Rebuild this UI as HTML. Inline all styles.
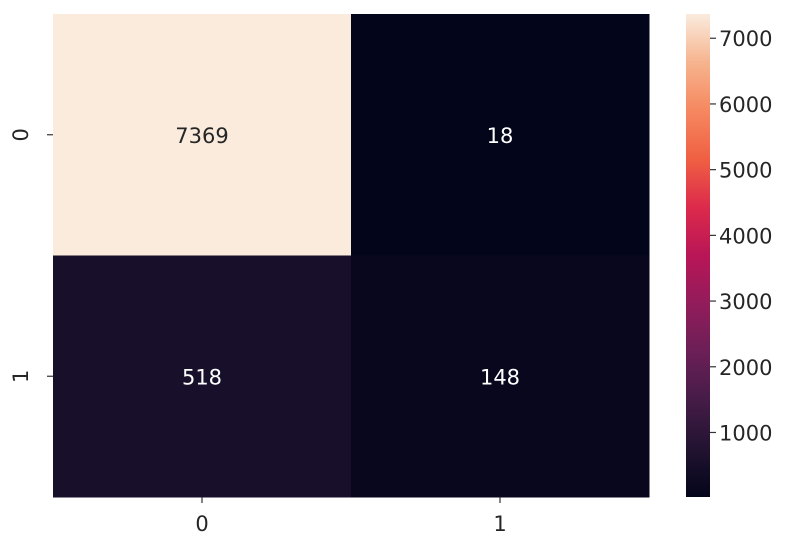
<!DOCTYPE html>
<html><head><meta charset="utf-8"><style>
body{margin:0;background:#fff;}
svg text{font-family:"DejaVu Sans","Liberation Sans",sans-serif;}
</style></head><body>
<svg id="chart" width="796" height="552" xmlns="http://www.w3.org/2000/svg">
<defs><linearGradient id="rocket" x1="0" y1="1" x2="0" y2="0"></linearGradient></defs>
<g id="cells"></g><g id="axes"></g><g id="cbar"></g>
</svg>
<script>
const rowLabels = ["0","1"];
const colLabels = ["0","1"];
const values = [[7369,18],[518,148]];
const cbarTicks = [1000,2000,3000,4000,5000,6000,7000];

const stops=[[0,"#03051a"],[0.1,"#221331"],[0.2,"#451c47"],[0.3,"#6b1f56"],[0.4,"#921c5b"],[0.5,"#b91657"],[0.6,"#dc2a4b"],[0.7,"#f06043"],[0.8,"#f58860"],[0.9,"#f6b48e"],[1,"#faebdd"]];
const NS="http://www.w3.org/2000/svg";
function hx(c){return [1,3,5].map(i=>parseInt(c.substr(i,2),16));}
function cmap(t){t=Math.max(0,Math.min(1,t));for(let i=1;i<stops.length;i++){if(t<=stops[i][0]){const a=stops[i-1],b=stops[i];const f=(t-a[0])/(b[0]-a[0]);const ca=hx(a[1]),cb=hx(b[1]);return "rgb("+ca.map((v,k)=>Math.round(v+(cb[k]-v)*f)).join(",")+")";}}return stops[stops.length-1][1];}
function mk(tag,attrs,parent){const e=document.createElementNS(NS,tag);for(const k in attrs)e.setAttribute(k,attrs[k]);parent.appendChild(e);return e;}
const flat=values.flat();const vmin=Math.min(...flat),vmax=Math.max(...flat);
const X0=53,X1=649,Y0=14,Y1=497;
const FS=21;
const cw=(X1-X0)/colLabels.length,ch=(Y1-Y0)/rowLabels.length;
const xPos=j=>X0+j*cw, yPos=i=>Y0+i*ch;
const cells=document.getElementById('cells'),axes=document.getElementById('axes'),cb=document.getElementById('cbar');
values.forEach((row,i)=>row.forEach((v,j)=>{
  const t=(v-vmin)/(vmax-vmin);
  const r=mk('rect',{x:xPos(j),y:yPos(i),width:cw+0.5,height:ch+0.5,fill:cmap(t)},cells);
  
  
  const tx=mk('text',{x:xPos(j)+cw/2,y:yPos(i)+ch/2+8,'text-anchor':'middle','font-size':FS,fill:t>0.5?'#262626':'#ffffff'},cells);
  tx.textContent=v;
  
  
}));
colLabels.forEach((l,j)=>{const x=xPos(j)+cw/2;
  mk('line',{x1:x,y1:Y1,x2:x,y2:Y1+6,stroke:'#333','stroke-width':1.2},axes);
  const t=mk('text',{x:x,y:Y1+34,'text-anchor':'middle','font-size':FS,fill:'#262626'},axes);t.textContent=l;
  
  });
rowLabels.forEach((l,i)=>{const y=yPos(i)+ch/2;
  mk('line',{x1:X0-6,y1:y,x2:X0,y2:y,stroke:'#333','stroke-width':1.2},axes);
  const t=mk('text',{x:0,y:0,transform:'translate(28,'+y+') rotate(-90)','text-anchor':'middle','font-size':FS,fill:'#262626'},axes);t.textContent=l;
  
  });
const g=document.getElementById('rocket');
stops.forEach(s=>mk('stop',{offset:s[0],'stop-color':s[1]},g));
const CX0=686,CX1=710;
const cbr=mk('rect',{x:CX0,y:Y0,width:CX1-CX0,height:Y1-Y0,fill:'url(#rocket)'},cb);


const cy=v=>Y1-(v-vmin)/(vmax-vmin)*(Y1-Y0);
cbarTicks.forEach(v=>{const y=cy(v);
  mk('line',{x1:CX1,y1:y,x2:CX1+6,y2:y,stroke:'#333','stroke-width':1.2},cb);
  const t=mk('text',{x:CX1+9,y:y+8,'font-size':FS,fill:'#262626'},cb);t.textContent=v;
  
  });
</script>
</body></html>
